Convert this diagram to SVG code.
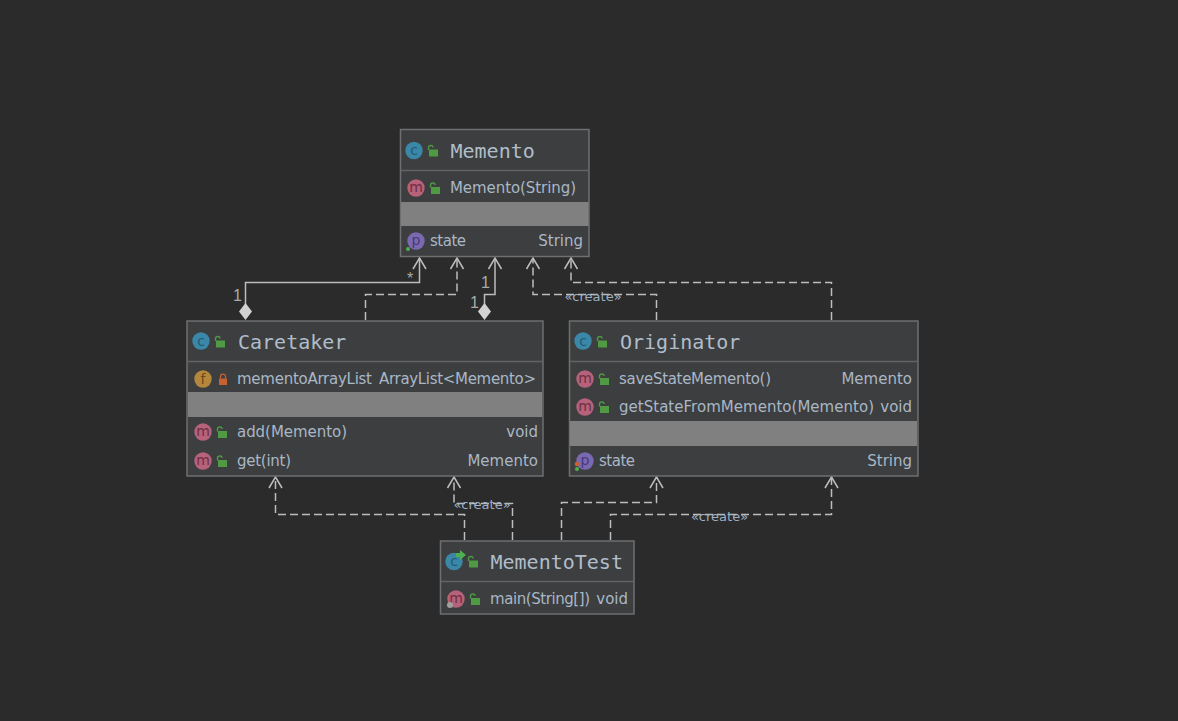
<svg xmlns="http://www.w3.org/2000/svg" width="1178" height="721" viewBox="0 0 1178 721">
<style>
.box{fill:#3d3e3f;stroke:#6e6f70;stroke-width:1.5}
.sep{stroke:#626364;stroke-width:1.5}
.gray{fill:#808080}
.title{font-family:"DejaVu Sans Mono",monospace;font-size:20px;fill:#b0bdca}
.t{font-family:"DejaVu Sans","Open Sans",sans-serif;font-size:15px;fill:#a9b7c6}
.r{text-anchor:end}
.ic{font-family:"DejaVu Sans",sans-serif;font-size:14px;text-anchor:middle}
.lab{font-family:"Liberation Sans",sans-serif;font-size:16px;fill:#a9a9a9}
.cr{font-family:"DejaVu Sans",sans-serif;font-size:13px;fill:#9fb0c4;text-anchor:middle}
.l{fill:none;stroke:#bdbdbd;stroke-width:1.5}
.d{stroke-dasharray:8 4}
.a{fill:none;stroke:#bdbdbd;stroke-width:1.5}
.dia{fill:#d2d2d2}
.lock{fill:#4f9a42}
</style>
<defs>
<g id="open"><rect x="-4" y="-1.500" width="9" height="7" class="lock"/><path d="M-4.500 -1V-3.500Q-4.500 -5.500 -2 -5.500Q0 -5.500 0 -3.500" fill="none" stroke="#4f9a42" stroke-width="1.400"/></g>
<g id="closed"><rect x="-4" y="-1" width="8" height="6.500" fill="#c9602f"/><path d="M-2.500 -1V-3Q-2.500 -5.300 0 -5.300Q2.500 -5.300 2.500 -3V-1" fill="none" stroke="#c9602f" stroke-width="1.300"/></g>
<g id="C"><circle r="8.700" fill="#3a87a8"/><text y="4.500" class="ic" fill="#245a72">c</text></g>
<g id="M"><circle r="8.700" fill="#b5627a"/><text y="4" class="ic" fill="#6e2f42">m</text></g>
<g id="P"><circle r="8.700" fill="#7a69b0"/><text y="4" class="ic" fill="#463a78">p</text></g>
<g id="F"><circle r="8.700" fill="#b5873c"/><text y="4.500" class="ic" fill="#6b4a18">f</text></g>
<path id="arr" d="M-6.500 11L0 0L6.500 11" class="a"/>
</defs>
<rect width="1178" height="721" fill="#2b2b2b"/>

<g id="connectors">
<path class="l" d="M245.500 305V282.500H419.500V258"/>
<use href="#arr" x="419.500" y="258"/>
<path class="dia" d="M245.500 303L252 311.500L245.500 320L239 311.500Z"/>
<text class="lab" x="233" y="301">1</text>
<text class="lab" x="407" y="284">*</text>
<path class="l d" d="M365.500 320V294.500H457V258"/>
<use href="#arr" x="457" y="258"/>
<path class="l" d="M484.500 305V294.500H495V258"/>
<use href="#arr" x="495" y="258"/>
<path class="dia" d="M484.500 303L491 311.500L484.500 320L478 311.500Z"/>
<text class="lab" x="481" y="288">1</text>
<text class="lab" x="470" y="308">1</text>
<path class="l d" d="M656.500 320V294.500H533V258"/>
<use href="#arr" x="533" y="258"/>
<text class="cr" x="593" y="301">«create»</text>
<path class="l d" d="M831.500 320V282.500H571V258"/>
<use href="#arr" x="571" y="258"/>
<path class="l d" d="M464.500 540V514.500H275.500V477"/>
<use href="#arr" x="275.500" y="477"/>
<path class="l d" d="M512.500 540V503.500H454V477"/>
<use href="#arr" x="454" y="477"/>
<text class="cr" x="482" y="509">«create»</text>
<path class="l d" d="M561.500 540V502.500H656.500V477"/>
<use href="#arr" x="656.500" y="477"/>
<path class="l d" d="M610.500 540V514.500H831.500V477"/>
<use href="#arr" x="831.500" y="477"/>
<text class="cr" x="719.500" y="521">«create»</text>
</g>

<g id="memento">
<rect class="box" x="400.500" y="129.500" width="188.500" height="127"/>
<path class="sep" d="M401 170.500H589"/>
<rect class="gray" x="401" y="202" width="187.500" height="24"/>
<use href="#C" x="414" y="150.500"/><use href="#open" x="433" y="151"/>
<text class="title" x="450.500" y="158">Memento</text>
<use href="#M" x="416" y="188"/><use href="#open" x="435" y="188.500"/>
<text class="t" x="450" y="193" textLength="126">Memento(String)</text>
<use href="#P" x="416" y="241"/><circle cx="408" cy="249" r="2" fill="#4caf50"/>
<text class="t" x="430" y="246" textLength="36">state</text>
<text class="t r" x="583" y="246">String</text>
</g>

<g id="caretaker">
<rect class="box" x="187" y="321" width="356" height="155"/>
<path class="sep" d="M188 361.500H543"/>
<rect class="gray" x="188" y="392" width="354" height="25"/>
<use href="#C" x="201" y="341"/><use href="#open" x="220" y="342"/>
<text class="title" x="238" y="349">Caretaker</text>
<use href="#F" x="203" y="379"/><use href="#closed" x="223" y="379.500"/>
<text class="t" x="237" y="384" textLength="135">mementoArrayList</text>
<text class="t" x="379" y="384" textLength="157">ArrayList&lt;Memento&gt;</text>
<use href="#M" x="203" y="432"/><use href="#open" x="222" y="432.500"/>
<text class="t" x="237" y="437" textLength="110">add(Memento)</text>
<text class="t r" x="538" y="437">void</text>
<use href="#M" x="203" y="461"/><use href="#open" x="222" y="461.500"/>
<text class="t" x="237" y="466" textLength="54">get(int)</text>
<text class="t r" x="538" y="466">Memento</text>
</g>

<g id="originator">
<rect class="box" x="569.500" y="321" width="348.500" height="155"/>
<path class="sep" d="M570 361.500H918"/>
<rect class="gray" x="570" y="421" width="347" height="25"/>
<use href="#C" x="583" y="341"/><use href="#open" x="602" y="342"/>
<text class="title" x="620" y="349">Originator</text>
<use href="#M" x="585" y="379"/><use href="#open" x="604" y="379.500"/>
<text class="t" x="619" y="384" textLength="152">saveStateMemento()</text>
<text class="t r" x="912" y="384">Memento</text>
<use href="#M" x="585" y="407"/><use href="#open" x="604" y="407.500"/>
<text class="t" x="619" y="412" textLength="255">getStateFromMemento(Memento)</text>
<text class="t r" x="912" y="412">void</text>
<use href="#P" x="585" y="461"/><circle cx="577" cy="464" r="2.300" fill="#c9602f"/><circle cx="577" cy="469" r="2" fill="#4caf50"/>
<text class="t" x="599" y="466" textLength="36">state</text>
<text class="t r" x="912" y="466">String</text>
</g>

<g id="mementotest">
<rect class="box" x="440.500" y="541" width="193.500" height="73"/>
<path class="sep" d="M441 581.500H634"/>
<use href="#C" x="454" y="561.500"/><path d="M456 553H460V550L466 555L460 560V557H456Z" fill="#4caf50"/><use href="#open" x="473" y="562"/>
<text class="title" x="490.500" y="569">MementoTest</text>
<use href="#M" x="456" y="599"/><circle cx="450" cy="605" r="3" fill="#a0a0a0"/><use href="#open" x="475" y="599.500"/>
<text class="t" x="490" y="604" textLength="100">main(String[])</text>
<text class="t r" x="628" y="604">void</text>
</g>
</svg>
